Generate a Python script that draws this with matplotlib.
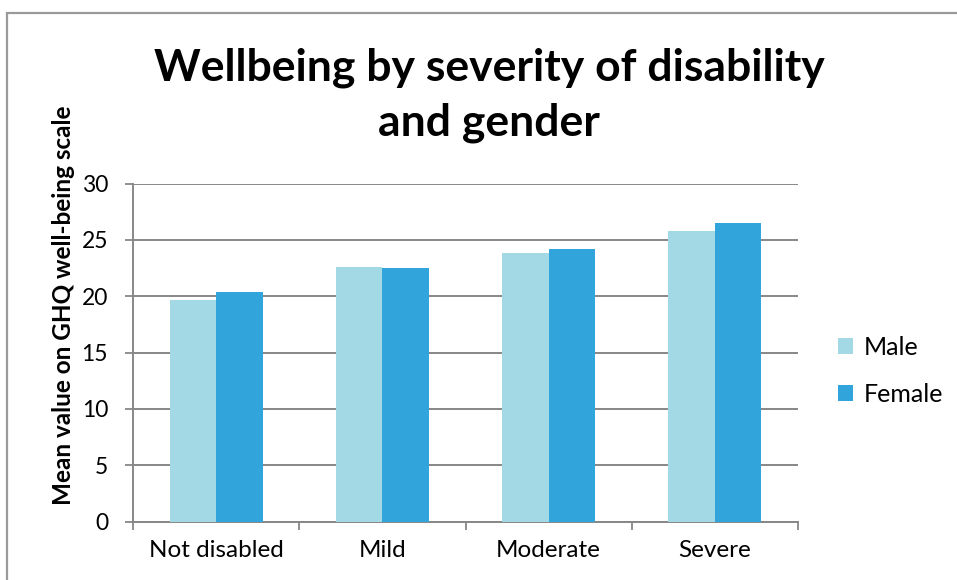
import matplotlib
matplotlib.use("Agg")
import matplotlib.pyplot as plt
from matplotlib.patches import Rectangle
import numpy as np

plt.rcParams['font.family'] = ['Lato', 'DejaVu Sans']

categories = ["Not disabled", "Mild", "Moderate", "Severe"]
male = [19.7, 22.6, 23.8, 25.8]
female = [20.4, 22.5, 24.2, 26.5]
series_names = ["Male", "Female"]
y_ticks = [0, 5, 10, 15, 20, 25, 30]

W, H = 957, 580
fig = plt.figure(figsize=(W / 100, H / 100), dpi=100)
fig.patch.set_facecolor("white")

# chart-area border
fig.patches.append(Rectangle((7 / W, -0.05), 1.1, (H - 13) / H + 0.05,
                             transform=fig.transFigure, fill=False,
                             edgecolor="#9a9a9a", linewidth=1.6))

ax = fig.add_axes([133 / W, (H - 521.5) / H, (798 - 133) / W, (521.5 - 183.5) / H])

x = np.arange(len(categories))
bw = 0.28
grid_c = "#878787"
ax.bar(x - bw / 2, male, bw, color="#A3D9E5", label=series_names[0], zorder=3)
ax.bar(x + bw / 2, female, bw, color="#31A4DC", label=series_names[1], zorder=3)

ax.set_xlim(-0.5, len(categories) - 0.5)
ax.set_ylim(0, 30)
ax.set_yticks(y_ticks)
ax.yaxis.grid(True, color=grid_c, linewidth=1.4, zorder=0)
ax.set_axisbelow(True)

ax.set_xticks(np.arange(len(categories) + 1) - 0.5)
ax.set_xticklabels([])
ax.set_xticks(x, minor=True)
ax.set_xticklabels(categories, minor=True, fontsize=17.5)
ax.tick_params(axis="x", which="minor", length=0, pad=13)
ax.tick_params(axis="x", which="major", length=6, color=grid_c, width=1.3)
ax.tick_params(axis="y", length=6, color=grid_c, width=1.3, labelsize=16.5, pad=12)

for s in ["top", "right"]:
    ax.spines[s].set_visible(False)
for s in ["left", "bottom"]:
    ax.spines[s].set_color(grid_c)
    ax.spines[s].set_linewidth(1.4)

# axis title sits left of the tick labels, shifted upward
fig.text(64 / W, 1 - 305 / H, "Mean value on GHQ well-being scale",
         rotation=90, ha="center", va="center", fontsize=17.5,
         fontweight="bold")

fig.text(489 / W, 1 - 95 / H, "Wellbeing by severity of disability\nand gender",
         ha="center", va="center", fontsize=32, fontweight="bold",
         linespacing=1.45)

ax.legend(loc="center left", bbox_to_anchor=(828 / W, 1 - 371 / H),
          bbox_transform=fig.transFigure, frameon=False,
          fontsize=18, handlelength=0.6, handleheight=0.6,
          labelspacing=0.95, handletextpad=0.45, borderaxespad=0)

fig.savefig("out.png", dpi=100, facecolor="white")
